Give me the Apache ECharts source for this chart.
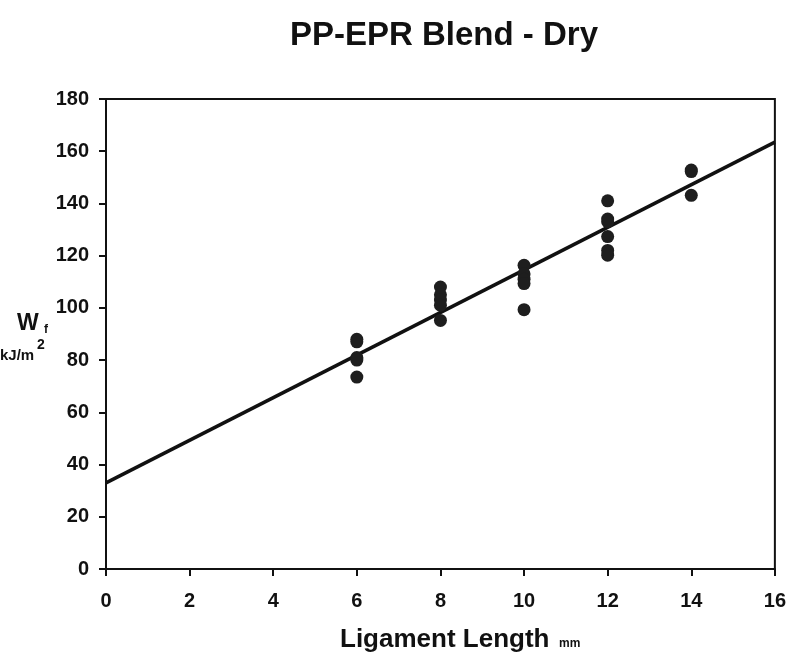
<!DOCTYPE html>
<html>
<head>
<meta charset="utf-8">
<script src="https://cdn.jsdelivr.net/npm/echarts@6/dist/echarts.min.js"></script>
<style>html,body{margin:0;padding:0;background:#fff}#c{width:789px;height:656px}</style>
</head>
<body>
<div id="c"></div>
<script>
var titleText = 'PP-EPR Blend - Dry';
var xTicks = [0, 2, 4, 6, 8, 10, 12, 14, 16];
var yTicks = [0, 20, 40, 60, 80, 100, 120, 140, 160, 180];
var ligamentX = [6, 6, 6, 6, 6, 8, 8, 8, 8, 8, 10, 10, 10, 10, 10, 12, 12, 12, 12, 12, 12, 14, 14, 14];
var workWf = [88, 87, 81, 80, 73.5, 108, 105, 103, 101, 95.2, 116.3, 113, 111, 109.3, 99.3, 141, 134, 133, 127.3, 122, 120.2, 152.8, 152.2, 143.1];
var fitX = [0, 16];
var fitY = [33, 163.5];

var F = 'Liberation Sans, Arial, Helvetica, sans-serif';
var pts = ligamentX.map(function (x, i) { return [x, workWf[i]]; });
var fit = fitX.map(function (x, i) { return [x, fitY[i]]; });

var chart = echarts.init(document.getElementById('c'), null, {renderer: 'canvas'});
chart.setOption({
  backgroundColor: '#fff',
  animation: false,
  title: {
    text: titleText, left: 439, top: 14, textAlign: 'center',
    textStyle: {fontFamily: F, fontSize: 33, fontWeight: 'bold', color: '#111'}
  },
  grid: {left: 106, right: 13, top: 99, bottom: 87, show: true, borderColor: '#111', borderWidth: 2, backgroundColor: 'transparent'},
  xAxis: {
    type: 'value', min: 0, max: 16, interval: 2,
    axisLine: {show: true, lineStyle: {color: '#111', width: 2}},
    axisTick: {show: true, length: 7, lineStyle: {color: '#111', width: 2}},
    axisLabel: {fontFamily: F, fontSize: 20, fontWeight: 'bold', color: '#111', margin: 22},
    splitLine: {show: false}
  },
  yAxis: {
    type: 'value', min: 0, max: 180, interval: 20,
    axisLine: {show: true, lineStyle: {color: '#111', width: 2}},
    axisTick: {show: true, length: 7, lineStyle: {color: '#111', width: 2}},
    axisLabel: {fontFamily: F, fontSize: 20, fontWeight: 'bold', color: '#111', margin: 17},
    splitLine: {show: false}
  },
  graphic: [
    {type: 'text', left: 17, top: 312, style: {text: 'W', font: 'bold 23px ' + F, fill: '#111'}},
    {type: 'text', left: 44, top: 324, style: {text: 'f', font: 'bold 12px ' + F, fill: '#111'}},
    {type: 'text', left: 0, top: 348, style: {text: 'kJ/m', font: 'bold 15px ' + F, fill: '#111'}},
    {type: 'text', left: 37, top: 338, style: {text: '2', font: 'bold 14px ' + F, fill: '#111'}},
    {type: 'text', left: 340, top: 627, style: {text: 'Ligament Length', font: 'bold 26px ' + F, fill: '#111'}},
    {type: 'text', left: 559, top: 638, style: {text: 'mm', font: 'bold 12px ' + F, fill: '#111'}}
  ],
  series: [
    {
      type: 'line', data: fit, symbol: 'none', z: 2,
      lineStyle: {color: '#111', width: 3.5}
    },
    {
      type: 'scatter', data: pts, symbol: 'circle', symbolSize: 13, z: 3,
      itemStyle: {color: '#1e1e1e', opacity: 1}
    }
  ]
});
</script>
</body>
</html>
